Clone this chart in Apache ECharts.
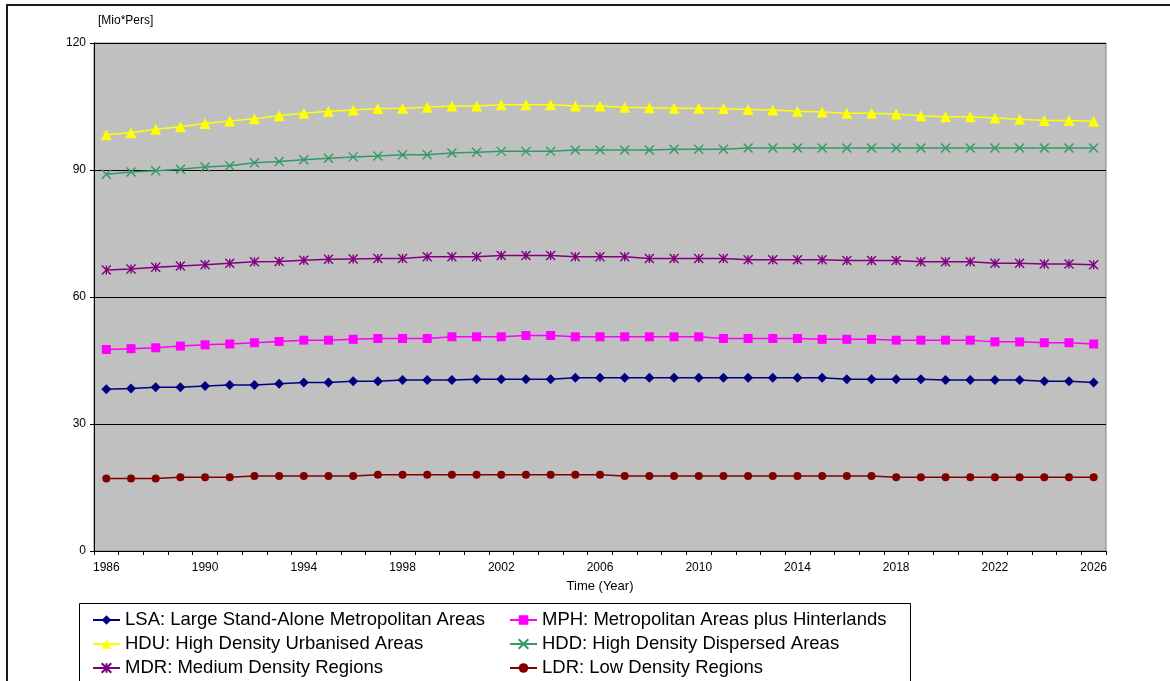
<!DOCTYPE html>
<html>
<head>
<meta charset="utf-8">
<title>Population by region type</title>
<script src="https://cdn.jsdelivr.net/npm/echarts@6/dist/echarts.min.js"></script>
<style>
  html, body { margin: 0; padding: 0; background: #ffffff; }
  #chart { width: 1170px; height: 681px; }
</style>
</head>
<body>
<div id="chart"></div>
<script>
// Years on the category axis
const years = [];
for (let y = 1986; y <= 2026; y++) years.push(String(y));

// Population per region type, million persons
const lsa = [38.2,38.4,38.7,38.7,39.0,39.2,39.2,39.5,39.8,39.8,40.1,40.1,40.4,40.4,40.4,40.6,
             40.6,40.6,40.6,40.9,40.9,40.9,40.9,40.9,40.9,40.9,40.9,40.9,40.9,40.9,40.6,40.6,
             40.6,40.6,40.4,40.4,40.4,40.4,40.1,40.1,39.8];
const mph = [47.6,47.8,48.0,48.4,48.7,48.9,49.2,49.5,49.8,49.8,50.0,50.2,50.2,50.2,50.6,50.6,
             50.6,50.9,50.9,50.6,50.6,50.6,50.6,50.6,50.6,50.2,50.2,50.2,50.2,50.0,50.0,50.0,
             49.8,49.8,49.8,49.8,49.4,49.4,49.2,49.2,48.9];
const hdu = [98.3,98.8,99.6,100.2,101.0,101.6,102.1,102.8,103.4,103.9,104.2,104.5,104.6,104.8,105.1,105.1,
             105.4,105.4,105.4,105.1,105.1,104.8,104.7,104.6,104.6,104.5,104.3,104.2,103.9,103.7,103.4,103.4,
             103.2,102.8,102.6,102.6,102.3,102.0,101.7,101.7,101.5];
const hdd = [89.0,89.5,89.8,90.2,90.7,91.0,91.7,92.0,92.4,92.8,93.1,93.3,93.6,93.6,94.0,94.2,
             94.4,94.4,94.4,94.7,94.7,94.7,94.7,94.9,94.9,94.9,95.2,95.2,95.2,95.2,95.2,95.2,
             95.2,95.2,95.2,95.2,95.2,95.2,95.2,95.2,95.2];
const mdr = [66.4,66.6,67.0,67.3,67.6,68.0,68.3,68.4,68.7,68.9,69.0,69.1,69.1,69.5,69.5,69.5,
             69.8,69.8,69.8,69.5,69.5,69.5,69.1,69.1,69.1,69.1,68.8,68.8,68.8,68.8,68.6,68.6,
             68.6,68.3,68.3,68.3,68.0,68.0,67.8,67.8,67.6];
const ldr = [17.1,17.1,17.1,17.4,17.4,17.4,17.7,17.7,17.7,17.7,17.7,18.0,18.0,18.0,18.0,18.0,
             18.0,18.0,18.0,18.0,18.0,17.7,17.7,17.7,17.7,17.7,17.7,17.7,17.7,17.7,17.7,17.7,
             17.4,17.4,17.4,17.4,17.4,17.4,17.4,17.4,17.4];

const seriesNames = [
  'LSA: Large Stand-Alone Metropolitan Areas',
  'MPH: Metropolitan Areas plus Hinterlands',
  'HDU: High Density Urbanised Areas',
  'HDD: High Density Dispersed Areas',
  'MDR: Medium Density Regions',
  'LDR: Low Density Regions'
];

const yTicks = { min: 0, max: 120, interval: 30 };

const FONT = '"Liberation Sans", Arial, sans-serif';
const CROSS = 'path://M0,0L10,10M10,0L0,10';
const STAR = 'path://M0,0L10,10M10,0L0,10M5,0L5,10';

function line(name, data, color, symbol, size, stroked) {
  return {
    name: name,
    type: 'line',
    data: data,
    symbol: symbol,
    symbolSize: size,
    showSymbol: true,
    lineStyle: { color: color, width: 1.5 },
    itemStyle: {
      color: color,
      borderColor: color,
      borderWidth: stroked ? 1.4 : 0
    },
    emphasis: { disabled: true },
    z: 3
  };
}

// Legend in two columns, three rows: one legend component per entry
const legendCols = [92, 509];
const legendRowTop = 610;
const legendRowStep = 24;
const legends = seriesNames.map(function (name, i) {
  return {
    data: [name],
    orient: 'horizontal',
    left: legendCols[i % 2],
    top: legendRowTop + Math.floor(i / 2) * legendRowStep,
    padding: 0,
    itemWidth: 27, itemHeight: 12,
    textStyle: { color: '#000000', fontSize: 18.5, fontFamily: FONT, lineHeight: 20 },
    selectedMode: false
  };
});

const chart = echarts.init(document.getElementById('chart'), null, { renderer: 'canvas' });

chart.setOption({
  animation: false,
  backgroundColor: '#ffffff',
  textStyle: { fontFamily: FONT },
  grid: {
    left: 94, right: 64, top: 43, bottom: 130,
    show: true,
    backgroundColor: '#C0C0C0',
    borderColor: '#808080',
    borderWidth: 1
  },
  xAxis: {
    type: 'category',
    data: years,
    boundaryGap: true,
    axisLine: { lineStyle: { color: '#000000', width: 1 } },
    axisTick: { show: true, interval: 0, length: 4, lineStyle: { color: '#000000' } },
    axisLabel: { interval: 3, color: '#000000', fontSize: 12, fontFamily: FONT, margin: 11 },
    name: 'Time (Year)',
    nameLocation: 'middle',
    nameGap: 29,
    nameTextStyle: { color: '#000000', fontSize: 13, fontFamily: FONT }
  },
  yAxis: {
    type: 'value',
    min: yTicks.min,
    max: yTicks.max,
    interval: yTicks.interval,
    axisLine: { show: true, lineStyle: { color: '#000000', width: 1 } },
    axisTick: { show: true, length: 4, lineStyle: { color: '#000000' } },
    axisLabel: { color: '#000000', fontSize: 12, fontFamily: FONT, margin: 8 },
    splitLine: { show: true, lineStyle: { color: '#000000', width: 1 } }
  },
  legend: legends,
  graphic: [
    {
      type: 'rect',
      shape: { x: 7, y: 5, width: 1200, height: 720 },
      style: { fill: 'none', stroke: '#1a1a1a', lineWidth: 2 },
      silent: true, z: 10
    },
    {
      type: 'rect',
      shape: { x: 79.5, y: 603.5, width: 831, height: 120 },
      style: { fill: 'none', stroke: '#000000', lineWidth: 1 },
      silent: true, z: 10
    },
    {
      type: 'text',
      left: 98, top: 15,
      style: { text: '[Mio*Pers]', fill: '#000000', font: '12px ' + FONT },
      silent: true
    }
  ],
  series: [
    line(seriesNames[0], lsa, '#000080', 'diamond', 10, false),
    line(seriesNames[1], mph, '#FF00FF', 'rect', 9, false),
    line(seriesNames[2], hdu, '#FFFF00', 'triangle', 11, false),
    line(seriesNames[3], hdd, '#339966', CROSS, 9, true),
    line(seriesNames[4], mdr, '#800080', STAR, 9, true),
    line(seriesNames[5], ldr, '#800000', 'circle', 8, false)
  ]
});
</script>
</body>
</html>
